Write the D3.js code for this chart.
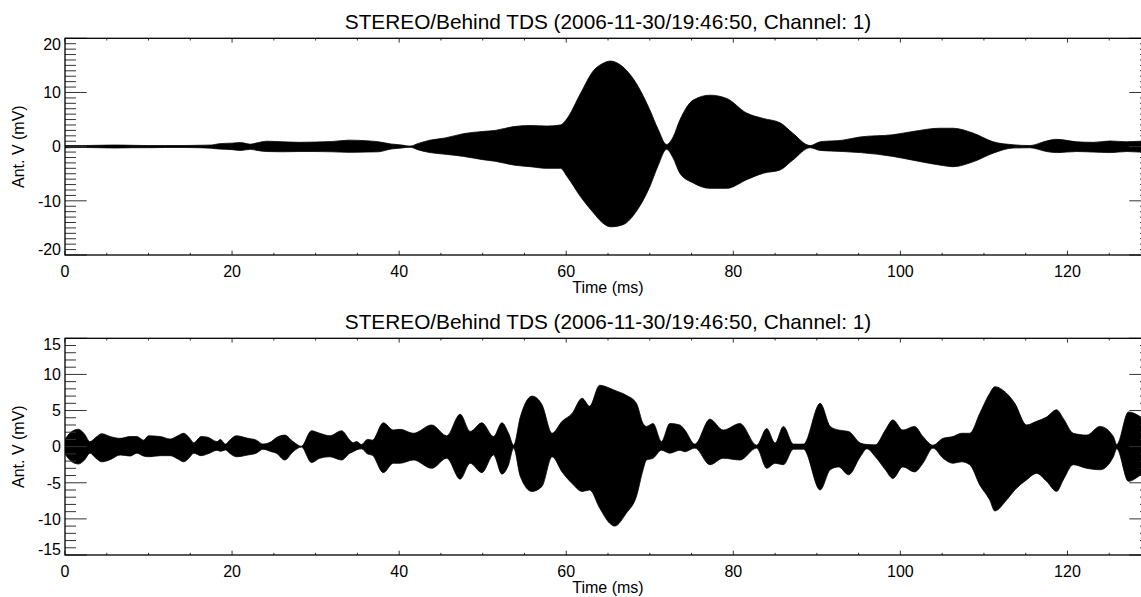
<!DOCTYPE html>
<html>
<head>
<meta charset="utf-8">
<script src="https://cdn.jsdelivr.net/npm/d3@7"></script>
<style>
  html, body { margin: 0; padding: 0; background: #fff; }
  svg { display: block; font-family: "Liberation Sans", Arial, Helvetica, sans-serif; }
</style>
</head>
<body>
<svg id="chart" width="1141" height="597"></svg>
<script>
// Waveform envelope (upper / lower extremes of the antenna voltage), mV vs ms
const titleText = "STEREO/Behind TDS (2006-11-30/19:46:50, Channel: 1)";
const xLabel = "Time (ms)";
const yLabel = "Ant. V (mV)";

const xMajorTicks = [0, 20, 40, 60, 80, 100, 120];
const yTicksTop = [-20, -10, 0, 10, 20];
const yTicksBottom = [-15, -10, -5, 0, 5, 10, 15];

// Panel 1
const time1 = [0, 2, 4, 6, 8, 10, 12, 14, 16, 17.5, 18.5, 20, 21, 22.2, 23, 24.2, 26, 28, 30, 32, 34, 36, 37.5, 39, 40.3, 41.3, 42.3, 43.7, 45.5, 47.7, 50, 51.5, 53.7, 55.7, 57.7, 59.3, 60.1, 61.7, 63.3, 64.3, 65.3, 66.8, 68.5, 70, 71, 72, 72.8, 73.6, 75.2, 77.2, 79.2, 81.6, 83.6, 85.6, 87.1, 89.2, 90.4, 93.1, 95.2, 99.1, 101.5, 104.7, 106.3, 108.7, 111.1, 113.5, 115.5, 117.5, 118.7, 121.1, 123.1, 125.1, 127.1, 128.7, 130];
const upper1 = [0.2, 0.2, 0.25, 0.3, 0.25, 0.2, 0.2, 0.2, 0.25, 0.3, 0.55, 0.65, 0.75, 0.45, 0.7, 1.0, 0.9, 0.8, 0.85, 0.95, 1.2, 1.1, 0.9, 0.5, 0.3, 0.1, 0.6, 1.2, 1.6, 2.4, 2.8, 3.0, 3.7, 3.9, 3.8, 4.0, 5.2, 9.8, 14.1, 15.3, 15.8, 14.7, 11.4, 6.8, 3.2, 0.4, 1.8, 4.9, 8.6, 9.5, 8.9, 6.2, 5.2, 4.4, 2.5, 0.2, 0.9, 1.2, 1.8, 2.2, 2.8, 3.4, 3.4, 2.5, 0.9, 0.35, 0.2, 1.05, 1.35, 0.9, 0.8, 1.05, 0.9, 1.0, 0.9];
const lower1 = [-0.2, -0.15, -0.2, -0.25, -0.2, -0.2, -0.15, -0.15, -0.2, -0.3, -0.45, -0.55, -0.7, -0.5, -0.7, -0.9, -0.95, -0.9, -0.9, -0.95, -1.05, -1.0, -0.95, -0.45, -0.25, -0.1, -0.6, -1.1, -1.4, -1.8, -2.4, -2.7, -3.4, -3.7, -4.0, -4.0, -5.5, -9.2, -12.3, -14.0, -14.8, -14.4, -11.7, -7.4, -3.5, -0.5, -2.1, -4.9, -6.7, -7.7, -7.7, -6.1, -4.9, -4.3, -2.5, -0.2, -0.7, -0.9, -1.1, -1.8, -2.5, -3.4, -3.7, -2.8, -1.2, -0.25, -0.2, -0.9, -1.1, -0.9, -1.0, -1.1, -0.9, -1.0, -0.9];

// Panel 2
const time2 = [0, 0.7, 1.6, 2.3, 3.0, 3.7, 4.4, 5.4, 6.6, 7.8, 8.6, 9.4, 10.0, 11.4, 12.6, 13.5, 14.2, 14.9, 15.4, 16.3, 17.1, 18.2, 18.6, 19.2, 19.8, 20.5, 21.9, 22.9, 23.7, 24.7, 25.3, 26.3, 27.3, 28.3, 29.5, 30.5, 31.7, 33.1, 34.1, 34.5, 34.9, 35.5, 36.2, 36.8, 38.1, 39.3, 40.1, 41.7, 43.9, 45.7, 47.3, 48.5, 49.9, 51.3, 52.3, 53.1, 53.7, 54.5, 55.9, 57.1, 58.3, 59.5, 60.7, 61.9, 62.8, 64.0, 65.2, 65.8, 67.2, 68.4, 69.2, 69.6, 70.4, 71.4, 72.4, 73.6, 74.2, 75.4, 77.2, 78.8, 80.8, 82.8, 84.0, 85.0, 86.0, 87.2, 88.4, 90.4, 91.6, 92.6, 93.8, 95.2, 96.0, 97.0, 98.2, 99.1, 100.3, 101.7, 102.7, 103.9, 105.1, 106.3, 107.3, 108.3, 109.5, 110.7, 111.3, 112.7, 113.7, 115.1, 116.3, 117.5, 118.7, 119.5, 120.7, 122.3, 123.9, 125.5, 125.9, 127.3, 128.8, 130];
const upper2 = [1.0, 2.0, 2.4, 1.8, 0.7, 1.3, 1.8, 1.4, 1.15, 1.4, 1.4, 0.9, 1.5, 1.4, 1.05, 1.5, 1.85, 1.2, 0.55, 1.4, 1.3, 0.7, 1.0, 0.35, 1.0, 1.5, 1.15, 0.9, 0.35, 0.7, 1.25, 1.6, 0.7, 0.05, 2.2, 1.85, 1.5, 2.2, 0.9, 0.55, 0.7, 0.3, 1.0, 0.9, 3.3, 2.3, 2.4, 1.85, 3.0, 1.5, 4.5, 2.1, 3.3, 1.4, 3.3, 1.85, 0.2, 4.1, 7.0, 5.8, 1.85, 3.5, 4.6, 6.7, 5.6, 8.5, 8.1, 7.8, 7.1, 6.0, 3.2, 2.8, 3.2, 0.7, 3.2, 3.0, 2.3, 0.35, 3.8, 2.3, 3.2, 0.2, 2.5, 0.5, 2.8, 0.35, 0.35, 6.0, 2.8, 2.3, 2.1, 0.5, 0.3, 0.25, 2.3, 3.7, 2.3, 2.8, 1.4, 0.2, 1.15, 1.4, 1.85, 1.85, 4.6, 7.4, 8.3, 7.4, 6.0, 3.0, 3.5, 4.1, 5.1, 3.9, 1.85, 1.6, 2.8, 1.4, 0.3, 4.8, 4.1, 3.0];
const lower2 = [-1.0, -2.0, -2.4, -1.9, -0.9, -1.6, -2.1, -1.8, -1.15, -1.3, -0.9, -1.3, -1.4, -1.25, -1.25, -1.7, -2.1, -1.5, -0.9, -1.25, -1.0, -0.5, -0.65, -0.45, -1.0, -1.4, -1.15, -0.9, -0.35, -0.7, -0.9, -1.85, -0.7, -0.05, -2.2, -1.6, -1.4, -1.85, -0.9, -0.7, -0.45, -0.3, -1.0, -1.2, -3.6, -2.3, -2.3, -1.85, -3.0, -1.6, -4.5, -2.3, -3.6, -1.15, -3.8, -2.5, -0.2, -4.1, -6.2, -5.5, -1.4, -3.5, -5.1, -6.2, -6.0, -8.5, -10.6, -11.0, -9.2, -6.9, -3.2, -1.85, -1.6, -0.5, -0.9, -0.5, -0.7, -0.2, -2.5, -1.6, -1.85, -0.2, -3.0, -2.3, -2.5, -0.35, -0.35, -6.0, -3.2, -2.8, -3.9, -1.4, -0.3, -1.4, -3.2, -4.4, -2.8, -3.5, -2.3, -0.2, -1.6, -2.3, -2.1, -2.5, -5.3, -7.4, -8.9, -7.4, -6.0, -4.6, -3.7, -4.8, -6.2, -4.6, -2.5, -3.0, -3.2, -1.4, -0.3, -4.8, -3.9, -3.0];

const svg = d3.select("#chart");
const plotLeft = 65, plotRight = 1151;
const x = d3.scaleLinear().domain([0, 130]).range([plotLeft, plotRight]);

function drawPanel(cfg) {
  const { top, bottom, yDomain, yMajor, yMinorStep, time, upper, lower } = cfg;
  const y = d3.scaleLinear().domain(yDomain).range([bottom, top]);
  const g = svg.append("g");

  const clipId = "clip" + Math.round(top);
  g.append("clipPath").attr("id", clipId)
    .append("rect").attr("x", plotLeft).attr("y", top)
    .attr("width", plotRight - plotLeft).attr("height", bottom - top);

  // Envelope of the oscillating signal
  const rows = time.map((t, i) => ({ t, hi: upper[i], lo: lower[i] }));
  const area = d3.area()
    .x(d => x(d.t))
    .y0(d => y(d.lo))
    .y1(d => y(d.hi))
    .curve(d3.curveMonotoneX);
  g.append("path")
    .datum(rows)
    .attr("clip-path", `url(#${clipId})`)
    .attr("d", area)
    .attr("fill", "#000")
    .attr("stroke", "#000")
    .attr("stroke-width", 0.8);

  // Tick marks on all four sides, pointing inward
  const tickColor = "#333";
  const xMinor = d3.range(0, 130.001, 5);
  const xLen = t => (t % 20 === 0 ? 4.3 : 2.2);
  xMinor.forEach(t => {
    const px = x(t);
    g.append("line").attr("x1", px).attr("x2", px).attr("y1", bottom).attr("y2", bottom - xLen(t))
      .attr("stroke", tickColor).attr("stroke-width", 1);
    g.append("line").attr("x1", px).attr("x2", px).attr("y1", top).attr("y2", top + xLen(t))
      .attr("stroke", tickColor).attr("stroke-width", 1);
  });

  const yMinor = d3.range(yDomain[0], yDomain[1] + 0.001, yMinorStep);
  yMinor.forEach(v => {
    const py = y(v);
    const len = yMajor.includes(v) ? 21.7 : 11;
    g.append("line").attr("x1", plotLeft).attr("x2", plotLeft + len).attr("y1", py).attr("y2", py)
      .attr("stroke", tickColor).attr("stroke-width", 1);
    g.append("line").attr("x1", plotRight).attr("x2", plotRight - len).attr("y1", py).attr("y2", py)
      .attr("stroke", tickColor).attr("stroke-width", 1);
  });

  // Frame
  g.append("rect")
    .attr("x", plotLeft).attr("y", top)
    .attr("width", plotRight - plotLeft).attr("height", bottom - top)
    .attr("fill", "none").attr("stroke", "#000").attr("stroke-width", 1.3);

  // Y tick labels, kept inside the vertical extent of the frame
  yMajor.forEach(v => {
    let cy = y(v);
    cy = Math.max(top + 5.5, Math.min(bottom - 5.5, cy));
    g.append("text")
      .attr("x", plotLeft - 4).attr("y", cy)
      .attr("dy", "0.36em")
      .attr("text-anchor", "end")
      .attr("font-size", 16)
      .attr("fill", "#000")
      .text(v);
  });

  // X tick labels
  xMajorTicks.forEach(t => {
    g.append("text")
      .attr("x", x(t)).attr("y", bottom + 21.7)
      .attr("text-anchor", "middle")
      .attr("font-size", 16)
      .attr("fill", "#000")
      .text(t);
  });

  // Axis titles and panel title
  const cx = (plotLeft + plotRight) / 2;
  g.append("text")
    .attr("x", cx).attr("y", bottom + 38)
    .attr("text-anchor", "middle")
    .attr("font-size", 16)
    .text(xLabel);

  g.append("text")
    .attr("transform", `translate(24,${(top + bottom) / 2}) rotate(-90)`)
    .attr("text-anchor", "middle")
    .attr("font-size", 16)
    .text(yLabel);

  g.append("text")
    .attr("x", cx).attr("y", top - 9)
    .attr("text-anchor", "middle")
    .attr("font-size", 20.8)
    .text(titleText);
}

drawPanel({
  top: 38.3, bottom: 255, yDomain: [-20, 20], yMajor: yTicksTop, yMinorStep: 1,
  time: time1, upper: upper1, lower: lower1
});
drawPanel({
  top: 338.3, bottom: 555, yDomain: [-15, 15], yMajor: yTicksBottom, yMinorStep: 1,
  time: time2, upper: upper2, lower: lower2
});
</script>
</body>
</html>
